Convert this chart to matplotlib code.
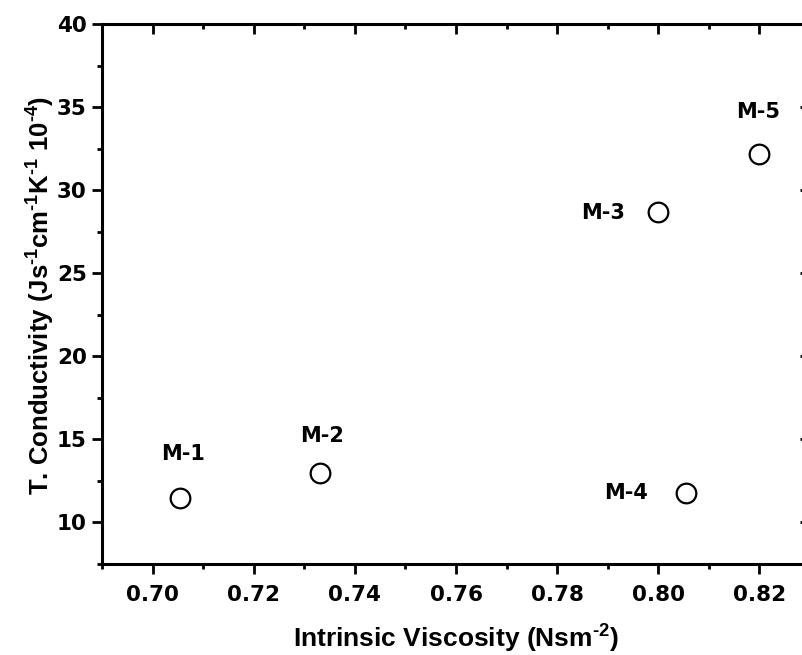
import matplotlib
matplotlib.use("Agg")
import matplotlib.pyplot as plt
from matplotlib.ticker import MultipleLocator, FormatStrFormatter

plt.rcParams['font.family'] = ['Liberation Sans', 'DejaVu Sans']
plt.rcParams['font.weight'] = 'bold'
plt.rcParams['mathtext.fontset'] = 'custom'
plt.rcParams['mathtext.rm'] = 'Liberation Sans:bold'
plt.rcParams['mathtext.bf'] = 'Liberation Sans:bold'
plt.rcParams['mathtext.default'] = 'bf'

# data
samples = ['M-1', 'M-2', 'M-3', 'M-4', 'M-5']
viscosity = [0.7055, 0.7332, 0.800, 0.8055, 0.820]
conductivity = [11.5, 12.95, 28.7, 11.75, 32.2]
# label offsets in points
offsets = [(2, 31), (1, 27), (-40, -1), (-43, 0), (-1, 30)]

fig = plt.figure(figsize=(8.02, 6.55), dpi=100)
ax = fig.add_axes([0.1272, 0.1389, 0.8828, 0.8245])

ax.scatter(viscosity, conductivity, s=200, facecolors='white',
           edgecolors='black', linewidths=1.6, zorder=3)

for name, x, y, off in zip(samples, viscosity, conductivity, offsets):
    ax.annotate(name, (x, y), xytext=off, textcoords='offset points',
                ha='center', va='center', fontsize=15, fontweight='bold',
                family='DejaVu Sans')

ax.set_xlim(0.69, 0.83)
ax.set_ylim(7.5, 40)
ax.xaxis.set_major_locator(MultipleLocator(0.02))
ax.xaxis.set_minor_locator(MultipleLocator(0.01))
ax.xaxis.set_major_formatter(FormatStrFormatter('%.2f'))
ax.yaxis.set_major_locator(MultipleLocator(5))
ax.yaxis.set_minor_locator(MultipleLocator(2.5))

for s in ax.spines.values():
    s.set_linewidth(2.2)

ax.tick_params(which='major', direction='out', length=7.5, width=2,
               labelsize=15.5, top=True, right=True)
ax.tick_params(which='minor', direction='out', length=3.5, width=2,
               top=True, right=True)
ax.tick_params(axis='x', which='major', pad=7.5)
ax.tick_params(axis='y', which='major', pad=3.5)
# top and right ticks point inward
for t in ax.xaxis.get_major_ticks() + ax.xaxis.get_minor_ticks():
    t.tick2line.set_marker(3)
for t in ax.yaxis.get_major_ticks() + ax.yaxis.get_minor_ticks():
    t.tick2line.set_marker(0)

for lab in ax.get_xticklabels() + ax.get_yticklabels():
    lab.set_fontweight('bold')
    lab.set_family('DejaVu Sans')

ax.set_xlabel(r'Intrinsic Viscosity (Nsm$^{\text{-2}}$)', fontsize=19,
              fontweight='bold', va='baseline')
ax.xaxis.set_label_coords(0.5, -0.155)
ax.set_ylabel(r'T. Conductivity (Js$^{\text{-1}}$cm$^{\text{-1}}$K$^{\text{-1}}$ 10$^{\text{-4}}$)',
              fontsize=18.5, fontweight='bold', va='baseline')
ax.yaxis.set_label_coords(-0.0734, 0.498)

fig.savefig('out.png', dpi=100)
